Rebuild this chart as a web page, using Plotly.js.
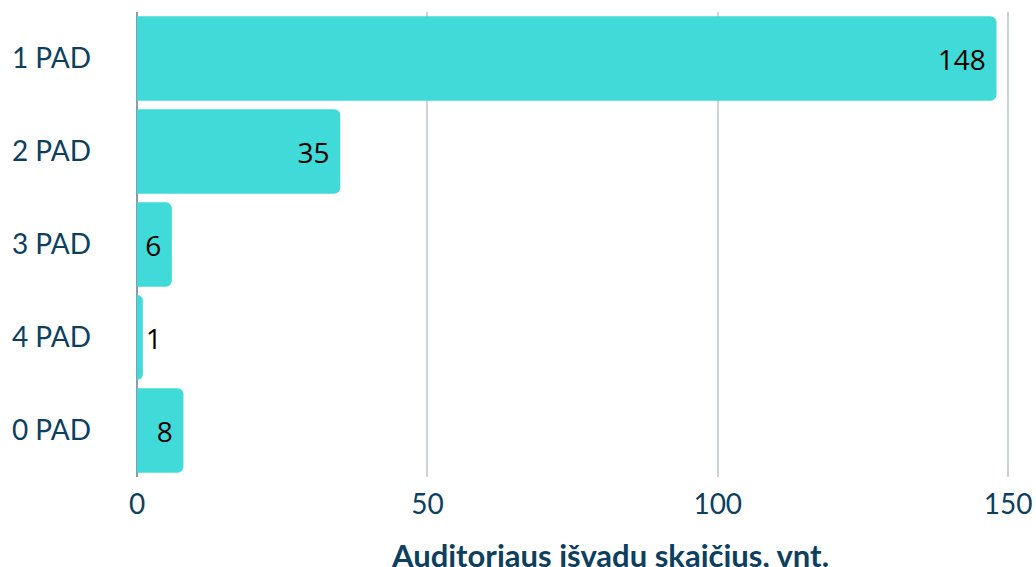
<!DOCTYPE html>
<html>
<head>
<meta charset="utf-8">
<script src="https://cdn.plot.ly/plotly-3.0.1.min.js"></script>
<style>html,body{margin:0;padding:0;background:#fff;}#chart{width:1036px;height:567px;}</style>
</head>
<body>
<div id="chart"></div>
<script>
const categories = ["1 PAD", "2 PAD", "3 PAD", "4 PAD", "0 PAD"];
const values = [148, 35, 6, 1, 8];
const xTicks = [0, 50, 100, 150];
const xTitle = "Auditoriaus išvadų skaičius, vnt.";

const textColor = "#0d3f5f";
const labelFont = {family: "Open Sans", size: 28, color: "#000"};
const trace = {
  type: "bar",
  orientation: "h",
  y: categories,
  x: values,
  text: values.map(v => String(v) + "\u2009"),
  textposition: "auto",
  insidetextanchor: "end",
  constraintext: "none",
  cliponaxis: false,
  textfont: labelFont,
  insidetextfont: labelFont,
  outsidetextfont: labelFont,
  marker: {color: "#40DBD8", line: {width: 0}},
  hoverinfo: "none"
};

const layout = {
  width: 1036, height: 567,
  margin: {l: 137, r: 0, t: 12, b: 90},
  paper_bgcolor: "#fff", plot_bgcolor: "#fff",
  bargap: 0.09,
  barcornerradius: 6,
  showlegend: false,
  font: {family: "Lato", color: textColor, size: 28},
  xaxis: {
    range: [0, 154.8],
    tickvals: xTicks,
    ticktext: xTicks.map(String),
    showgrid: true, gridcolor: "#c9d4dd", gridwidth: 2,
    zeroline: true, zerolinecolor: "#8c9bab", zerolinewidth: 2,
    showline: false, ticks: "",
    ticklabelstandoff: 8,
    tickfont: {family: "Lato", size: 28, color: textColor},
    fixedrange: true
  },
  yaxis: {
    type: "category",
    categoryorder: "array",
    categoryarray: categories.slice().reverse(),
    autorange: true,
    showgrid: false, zeroline: false, showline: false, ticks: "",
    ticklabelstandoff: 45,
    tickfont: {family: "Lato", size: 28, color: textColor},
    fixedrange: true
  },
  annotations: [{
    text: "<b>" + xTitle + "</b>",
    xref: "paper", yref: "paper",
    x: 0.526, y: 0, yshift: -78,
    xanchor: "center", yanchor: "middle",
    showarrow: false,
    font: {family: "Lato", size: 31, color: textColor}
  }]
};

Plotly.newPlot("chart", [trace], layout, {displayModeBar: false, staticPlot: true});
</script>
</body>
</html>
